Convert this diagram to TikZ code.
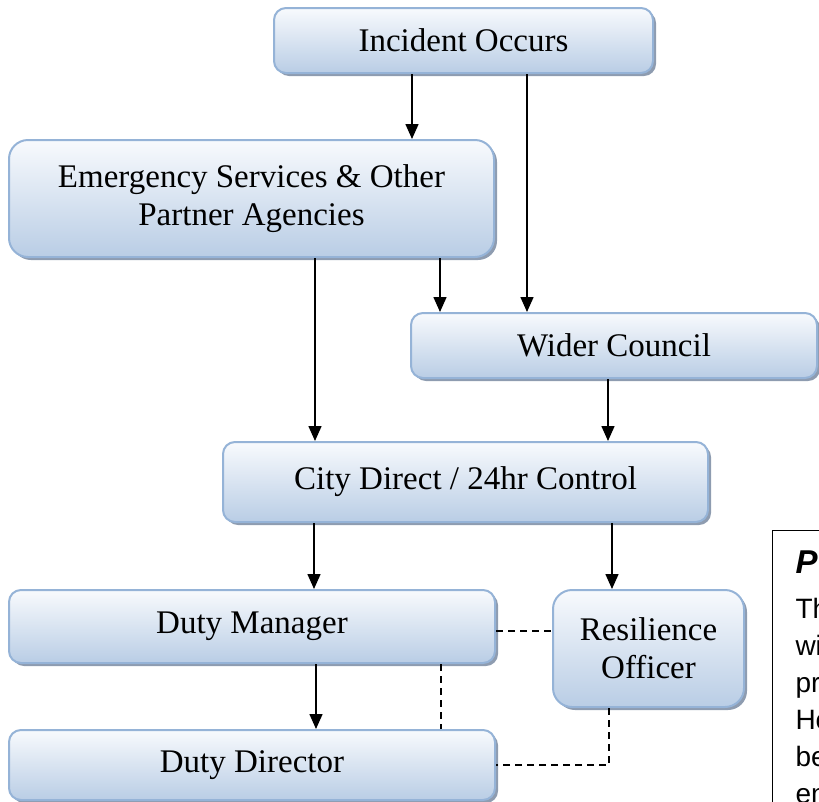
\documentclass[tikz,border=0pt]{standalone}
\usepackage{fontspec}
\setmainfont{Liberation Serif}
\newfontfamily\notefont{Liberation Sans}
\usetikzlibrary{arrows.meta,shadows}
\definecolor{boxline}{HTML}{95B3D7}
\definecolor{boxtop}{HTML}{F8FAFD}
\definecolor{boxbottom}{HTML}{B9CDE5}
\definecolor{boxshadow}{HTML}{8E9CB0}
\begin{document}
\begin{tikzpicture}[x=1pt,y=-1pt]
  \tikzstyle{stage}=[draw=boxline, line width=2pt, rounded corners=12pt,
    top color=boxtop, bottom color=boxbottom,
    drop shadow={shadow xshift=3pt, shadow yshift=-3pt, fill=boxshadow, opacity=1},
    font=\fontsize{33}{38}\selectfont, align=center, inner sep=0pt]
  \tikzstyle{flow}=[line width=1.5pt, -{Triangle[length=15pt,width=13pt]}]
  \tikzstyle{link}=[line width=1.5pt, dash pattern=on 7pt off 5pt]
  \useasboundingbox (0,0) rectangle (819,801);
  \clip (0,0) rectangle (819,801);
  % boxes
  \node[stage, minimum width=379pt, minimum height=65pt] (inc) at (463.5,40.5) {Incident Occurs};
  \node[stage, rounded corners=19pt, minimum width=485pt, minimum height=117pt] (esp) at (251.5,198.5)
    {Emergency Services \& Other\\Partner Agencies};
  \node[stage, minimum width=406pt, minimum height=65pt] (wc) at (614,345.5) {Wider Council};
  \node[stage, minimum width=485pt, minimum height=80pt] (cd) at (465.5,482) {City Direct / 24hr Control};
  \node[stage, minimum width=486pt, minimum height=73pt] (dm) at (252,626.5) {Duty Manager};
  \node[stage, rounded corners=19pt, minimum width=191pt, minimum height=117pt] (ro) at (648.5,648.5)
    {Resilience\\Officer};
  \node[stage, minimum width=486pt, minimum height=70pt] (dd) at (252,765) {Duty Director};
  % note on the right
  \node[draw, line width=1pt, anchor=north west, inner xsep=23pt, inner ysep=20pt,
    text width=200pt, font=\notefont] (note) at (772,530)
    {{\fontsize{33}{37}\selectfont\bfseries\itshape P\par}\vspace{8pt}%
     {\fontsize{28}{37}\selectfont Th\\wi\\pr\\Ho\\be\\en\par}};
  % arrows
  \draw[flow] (inc.south -| 412,0) -- (esp.north -| 412,0);
  \draw[flow] (inc.south -| 527,0) -- (wc.north -| 527,0);
  \draw[flow] (esp.south -| 315,0) -- (cd.north -| 315,0);
  \draw[flow] (esp.south -| 440,0) -- (wc.north -| 440,0);
  \draw[flow] (wc.south -| 608,0) -- (cd.north -| 608,0);
  \draw[flow] (cd.south -| 314,0) -- (dm.north -| 314,0);
  \draw[flow] (cd.south -| 612,0) -- (ro.north -| 612,0);
  \draw[flow] (dm.south -| 316,0) -- (dd.north -| 316,0);
  % dashed links
  \draw[link] (dm.east |- 0,631) -- (ro.west |- 0,631);
  \draw[link] (dm.south -| 441,0) -- (dd.north -| 441,0);
  \draw[link] (ro.south -| 609,0) |- (dd.east);
\end{tikzpicture}
\end{document}
